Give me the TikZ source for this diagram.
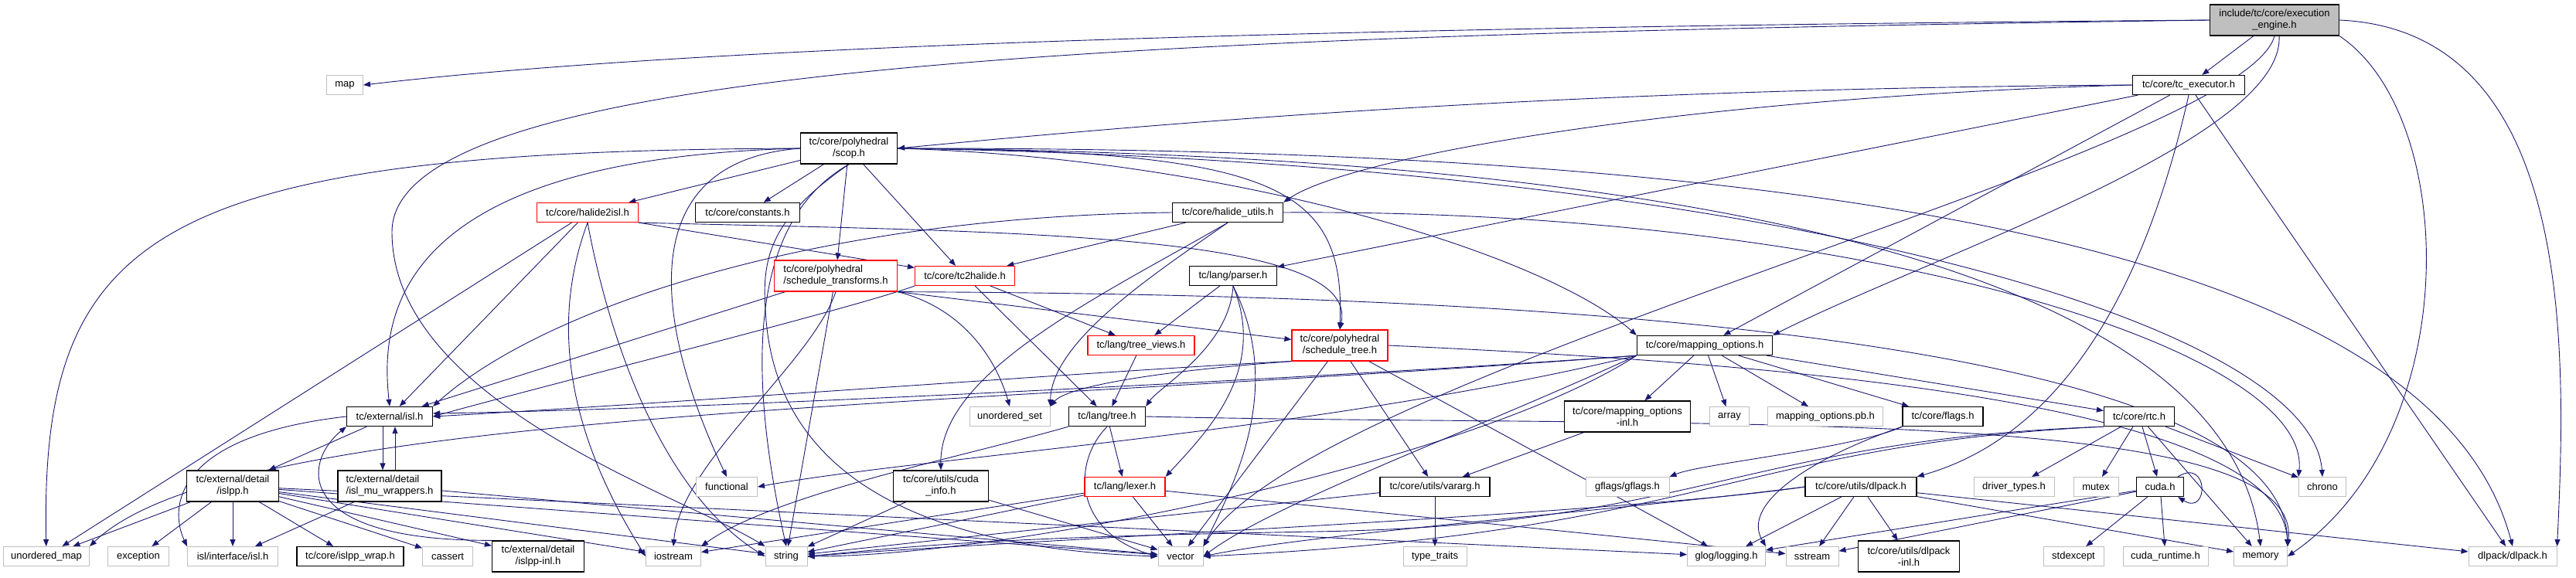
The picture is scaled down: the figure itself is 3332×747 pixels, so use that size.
\documentclass[tikz,border=0pt]{standalone}
\usepackage{fontspec}
\setmainfont{Liberation Sans}
\usetikzlibrary{arrows.meta}
\definecolor{edgeblue}{HTML}{191970}
\definecolor{sysgray}{HTML}{BFBFBF}
\definecolor{boxred}{HTML}{FF0000}
\pgfdeclarelayer{edges}
\pgfsetlayers{edges,main}
\begin{document}
\begin{tikzpicture}[
    x=1pt,y=-1pt,
    every node/.style={font=\fontsize{13}{15}\selectfont},
    file box/.style={draw=black,line width=1.3pt,fill=white,inner sep=0pt,minimum height=25pt,align=center},
    sys box/.style={file box,draw=sysgray,line width=1pt},
    red box/.style={file box,draw=boxred,line width=1.2pt},
    root box/.style={file box,fill=sysgray},
    two line/.style={minimum height=40pt},
    dep/.style={draw=edgeblue,line width=0.9pt,-{Triangle[length=9pt,width=7pt]}}
  ]
  \useasboundingbox (0,0) rectangle (3332,747);

  % top rows
  \node[root box,two line,minimum width=167pt] (ee) at (2942,26) {include/tc/core/execution\\\_engine.h};
  \node[sys box,minimum width=47pt] (map) at (446,110) {map};
  \node[file box,minimum width=145pt] (tcexec) at (2831,110) {tc/core/tc\_executor.h};
  \node[file box,two line,minimum width=125pt] (scop) at (1098,192) {tc/core/polyhedral\\/scop.h};
  \node[red box,minimum width=131pt] (halide2isl) at (760,275) {tc/core/halide2isl.h};
  \node[file box,minimum width=135pt] (constants) at (967,275) {tc/core/constants.h};
  \node[file box,minimum width=143pt] (halideutils) at (1588,275) {tc/core/halide\_utils.h};
  \node[red box,two line,align=left,minimum width=159pt] (schedtrans) at (1081,357) {tc/core/polyhedral\\/schedule\_transforms.h};
  \node[red box,minimum width=129pt] (tc2halide) at (1248,357) {tc/core/tc2halide.h};
  \node[file box,minimum width=113pt] (parser) at (1595,357) {tc/lang/parser.h};
  \node[red box,minimum width=138pt] (treeviews) at (1476,447) {tc/lang/tree\_views.h};
  \node[red box,two line,minimum width=124pt] (schedtree) at (1733,447) {tc/core/polyhedral\\/schedule\_tree.h};
  \node[file box,minimum width=175pt] (mapopts) at (2205,447) {tc/core/mapping\_options.h};

  % middle rows
  \node[file box,minimum width=111pt] (isl) at (504,539) {tc/external/isl.h};
  \node[sys box,minimum width=104pt] (unorderedset) at (1306,539) {unordered\_set};
  \node[file box,minimum width=99pt] (tree) at (1432,539) {tc/lang/tree.h};
  \node[file box,two line,minimum width=163pt] (mapoptsinl) at (2105,539) {tc/core/mapping\_options\\-inl.h};
  \node[sys box,minimum width=51pt] (array) at (2237,539) {array};
  \node[sys box,minimum width=149pt] (mapoptspb) at (2361,539) {mapping\_options.pb.h};
  \node[file box,minimum width=104pt] (flags) at (2513,539) {tc/core/flags.h};
  \node[file box,minimum width=91pt] (rtc) at (2767,539) {tc/core/rtc.h};
  \node[file box,two line,minimum width=119pt] (islpp) at (301,629) {tc/external/detail\\/islpp.h};
  \node[file box,two line,align=left,minimum width=134pt] (islmu) at (504,629) {tc/external/detail\\/isl\_mu\_wrappers.h};
  \node[sys box,minimum width=79pt] (functional) at (940,630) {functional};
  \node[file box,two line,minimum width=123pt] (cudainfo) at (1217,629) {tc/core/utils/cuda\\\_info.h};
  \node[red box,minimum width=104pt] (lexer) at (1455,630) {tc/lang/lexer.h};
  \node[file box,minimum width=142pt] (vararg) at (1856,630) {tc/core/utils/vararg.h};
  \node[sys box,minimum width=108pt] (gflags) at (2105,630) {gflags/gflags.h};
  \node[file box,minimum width=144pt] (dlpackutils) at (2407,630) {tc/core/utils/dlpack.h};
  \node[sys box,minimum width=104pt] (drivertypes) at (2605,630) {driver\_types.h};
  \node[sys box,minimum width=58pt] (mutex) at (2711,630) {mutex};
  \node[file box,minimum width=61pt] (cuda) at (2794,630) {cuda.h};
  \node[sys box,minimum width=61pt] (chrono) at (3004,630) {chrono};

  % bottom row
  \node[sys box,minimum width=111pt] (unorderedmap) at (60,720) {unordered\_map};
  \node[sys box,minimum width=79pt] (exception) at (179,720) {exception};
  \node[sys box,minimum width=117pt] (islinterface) at (301,720) {isl/interface/isl.h};
  \node[file box,minimum width=138pt] (islppwrap) at (453,720) {tc/core/islpp\_wrap.h};
  \node[sys box,minimum width=65pt] (cassert) at (579,720) {cassert};
  \node[file box,two line,minimum width=119pt] (islppinl) at (696,720) {tc/external/detail\\/islpp-inl.h};
  \node[sys box,minimum width=71pt] (iostream) at (871,720) {iostream};
  \node[sys box,minimum width=54pt] (string) at (1017,720) {string};
  \node[sys box,minimum width=58pt] (vector) at (1527,720) {vector};
  \node[sys box,minimum width=82pt] (typetraits) at (1856,720) {type\_traits};
  \node[sys box,minimum width=101pt] (glog) at (2233,720) {glog/logging.h};
  \node[sys box,minimum width=68pt] (sstream) at (2344,720) {sstream};
  \node[file box,two line,minimum width=131pt] (dlpackinl) at (2469,720) {tc/core/utils/dlpack\\-inl.h};
  \node[sys box,minimum width=78pt] (stdexcept) at (2682,720) {stdexcept};
  \node[sys box,minimum width=110pt] (cudaruntime) at (2801,720) {cuda\_runtime.h};
  \node[sys box,minimum width=69pt] (memory) at (2924,720) {memory};
  \node[sys box,minimum width=114pt] (dlpack) at (3250,720) {dlpack/dlpack.h};

  \begin{pgfonlayer}{edges}
  \foreach \a/\b in {ee/tcexec, tcexec/parser, tcexec/mapopts, tcexec/dlpack,
      scop/halide2isl, scop/constants, scop/schedtrans, scop/tc2halide,
      halide2isl/isl, halide2isl/unorderedmap, halideutils/tc2halide,
      schedtrans/isl, schedtrans/string, tc2halide/treeviews, tc2halide/tree,
      parser/treeviews, treeviews/tree, tree/lexer, lexer/vector, lexer/string,
      lexer/iostream, lexer/sstream, isl/islpp, islpp/unorderedmap, islpp/exception,
      islpp/islinterface, islpp/islppwrap, islpp/cassert, islpp/islppinl,
      islpp/iostream, islpp/string, islpp/vector, islpp/glog, islmu/islinterface,
      islmu/vector, cudainfo/string, cudainfo/vector, vararg/typetraits,
      vararg/string, mapoptsinl/vararg, schedtree/vararg, schedtree/glog,
      schedtree/vector, mapopts/mapoptsinl, mapopts/array, mapopts/mapoptspb,
      mapopts/flags, mapopts/rtc, rtc/drivertypes, rtc/mutex, rtc/cuda,
      rtc/memory, rtc/chrono, cuda/stdexcept, cuda/cudaruntime, cuda/sstream,
      cuda/glog, dlpackutils/dlpackinl, dlpackutils/sstream, dlpackutils/glog,
      dlpackutils/memory, dlpackutils/dlpack}
    \draw[dep] (\a) -- (\b);

  \draw[dep] (ee.west) .. controls (1700,35) and (900,60) .. (map.east);
  \draw[dep] (ee.west) .. controls (1500,45) and (507,80) .. (507,300) .. controls (507,520) and (880,640) .. (string.north west);
  \draw[dep] ([xshift=6pt]ee.south) .. controls (2955,180) and (2500,330) .. (mapopts.north east);
  \draw[dep] (ee.south) .. controls (2900,200) and (1700,480) .. (vector.north east);
  \draw[dep] (ee.south east) .. controls (3180,150) and (3190,560) .. (memory.east);
  \draw[dep] (ee.east) .. controls (3330,40) and (3320,450) .. (dlpack.north east);

  \draw[dep] (tcexec.west) .. controls (2000,115) and (1500,160) .. (scop.east);
  \draw[dep] (tcexec.west) .. controls (2200,125) and (1750,200) .. (halideutils.north east);
  \draw[dep] (tcexec.south) .. controls (2780,350) and (2680,560) .. (dlpackutils.north east);

  \draw[dep] (scop.west) .. controls (520,205) and (490,400) .. (isl.north);
  \draw[dep] (scop.west) .. controls (200,195) and (52,300) .. (unorderedmap);
  \draw[dep] (scop.west) .. controls (800,210) and (860,450) .. (functional.north);
  \draw[dep] (scop.south) .. controls (980,280) and (960,450) .. (string.north);
  \draw[dep] (scop.south) .. controls (1000,280) and (985,330) .. (990,400) .. controls (1000,620) and (1200,710) .. (vector.west);
  \draw[dep] (scop.east) .. controls (1650,195) and (1740,240) .. (schedtree.north);
  \draw[dep] (scop.east) .. controls (1600,205) and (2000,330) .. (mapopts.north west);
  \draw[dep] (scop.east) .. controls (2200,200) and (2880,350) .. (memory.north);
  \draw[dep] (scop.east) .. controls (2300,210) and (2990,420) .. (chrono.north);
  \draw[dep] (scop.east) .. controls (2400,190) and (3150,330) .. (dlpack.north);

  \draw[dep] (halide2isl.south) .. controls (700,450) and (760,600) .. (iostream.west);
  \draw[dep] (halide2isl.south) .. controls (790,450) and (860,640) .. (string.west);
  \draw[dep] (halide2isl.south east) -- (tc2halide);
  \draw[dep] (halide2isl.south east) .. controls (1300,300) and (1760,300) .. (schedtree.north);

  \draw[dep] (halideutils.south) .. controls (1430,380) and (1215,480) .. (cudainfo.north);
  \draw[dep] (halideutils.south) .. controls (1500,350) and (1360,440) .. (unorderedset.north east);
  \draw[dep] (halideutils.west) .. controls (1050,280) and (700,400) .. (isl.north east);
  \draw[dep] (halideutils.east) .. controls (2400,270) and (2990,450) .. (chrono.north west);

  \draw[dep] (schedtrans.south) .. controls (1050,470) and (880,600) .. (iostream.north);
  \draw[dep] (schedtrans.south east) .. controls (1250,400) and (1290,470) .. (unorderedset.north);
  \draw[dep] (schedtrans.south east) -- (schedtree);
  \draw[dep] (schedtrans.south east) .. controls (1700,380) and (2950,400) .. (memory.north east);
  \draw[dep] (tc2halide.south west) .. controls (1100,400) and (700,500) .. (isl.east);

  \draw[dep] (parser.south) .. controls (1590,450) and (1500,500) .. (tree.north east);
  \draw[dep] (parser.south) .. controls (1640,480) and (1560,560) .. (lexer.north east);
  \draw[dep] (parser.south) .. controls (1660,500) and (1600,620) .. (vector.north east);

  \draw[dep] (tree.south) .. controls (1385,600) and (1390,690) .. (vector.west);
  \draw[dep] (tree.south west) .. controls (1250,590) and (1000,640) .. (iostream.north east);
  \draw[dep] (tree.east) .. controls (2200,555) and (2980,520) .. (memory.north east);

  \draw[dep] (isl.west) .. controls (220,565) and (220,660) .. (islinterface.north west);
  \draw[dep] ([xshift=-9pt]isl.south) -- ([xshift=-9pt]islmu.north);
  \draw[dep] ([xshift=7pt]islmu.north) -- ([xshift=7pt]isl.south);
  \draw[dep] (islppinl.north west) .. controls (380,700) and (390,600) .. (isl.south west);

  \draw[dep] (schedtree.south west) .. controls (1500,475) and (900,520) .. (isl.east);
  \draw[dep] (schedtree.south west) .. controls (1500,480) and (1380,500) .. (unorderedset.north east);
  \draw[dep] (schedtree.east) .. controls (2300,470) and (2950,520) .. (memory.north east);

  \draw[dep] (mapopts.south west) .. controls (1700,490) and (900,530) .. ([yshift=4pt]isl.east);
  \draw[dep] (mapopts.south west) .. controls (1900,600) and (1300,720) .. (string.east);
  \draw[dep] (mapopts.south west) .. controls (1900,560) and (1650,650) .. (vector.east);
  \draw[dep] (mapopts.south west) .. controls (1700,560) and (1200,590) .. (functional.east);
  \draw[dep] (mapopts.south west) .. controls (1200,530) and (300,530) .. (unorderedmap.north east);

  \draw[dep] (flags.south west) .. controls (2350,590) and (2250,650) .. (glog.north east);
  \draw[dep] (flags.south west) .. controls (2400,580) and (2200,600) .. (gflags.north east);

  \draw[dep] (rtc.south west) .. controls (2250,570) and (2200,680) .. (1700,688) .. controls (1300,695) and (1200,705) .. (string.east);
  \draw[dep] (rtc.south west) .. controls (2250,575) and (2200,690) .. (vector.east);
  \draw[dep] ([xshift=-8pt]cuda.north east) .. controls +(40,-25) and +(40,25) .. ([xshift=-8pt]cuda.south east);

  \draw[dep] (dlpackutils.west) .. controls (2100,660) and (1700,690) .. (vector.east);
  \draw[dep] (dlpackutils.west) .. controls (2100,665) and (1300,700) .. (string.east);
  \end{pgfonlayer}
\end{tikzpicture}
\end{document}
